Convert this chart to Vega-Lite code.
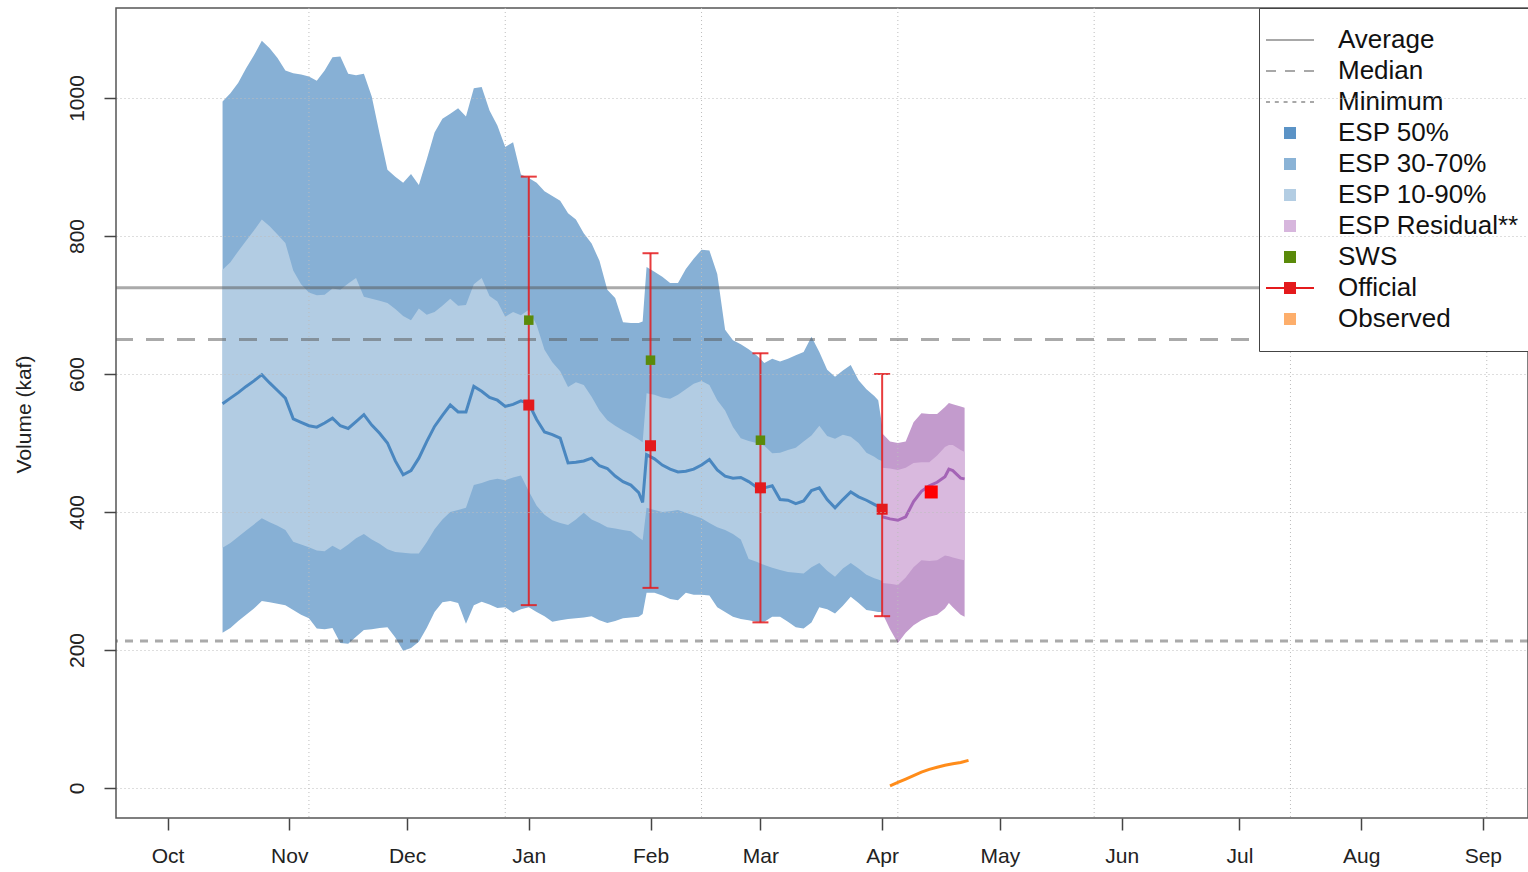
{
  "$schema": "https://vega.github.io/schema/vega-lite/v6.json",
  "width": 1412,
  "height": 810,
  "autosize": {"type": "none"},
  "padding": {"left": 116, "top": 8, "right": 0, "bottom": 54},
  "background": "white",
  "config": {
    "font": "Liberation Sans",
    "view": {"stroke": "#555555", "strokeWidth": 1.5}
  },
  "datasets": {
    "esp": [
      {"date":"2022-10-15","ob":225,"ib":348,"p50":557,"it":751,"ot":995},
      {"date":"2022-10-17","ob":232,"ib":355,"p50":565,"it":762,"ot":1007},
      {"date":"2022-10-19","ob":242,"ib":364,"p50":573,"it":778,"ot":1022},
      {"date":"2022-10-21","ob":251,"ib":373,"p50":582,"it":793,"ot":1043},
      {"date":"2022-10-23","ob":260,"ib":382,"p50":590,"it":808,"ot":1062},
      {"date":"2022-10-25","ob":271,"ib":391,"p50":599,"it":824,"ot":1083},
      {"date":"2022-10-27","ob":269,"ib":385,"p50":587,"it":814,"ot":1072},
      {"date":"2022-10-29","ob":267,"ib":380,"p50":576,"it":802,"ot":1058},
      {"date":"2022-10-31","ob":265,"ib":374,"p50":565,"it":790,"ot":1040},
      {"date":"2022-11-02","ob":258,"ib":357,"p50":535,"it":750,"ot":1036},
      {"date":"2022-11-04","ob":251,"ib":353,"p50":530,"it":730,"ot":1034},
      {"date":"2022-11-06","ob":246,"ib":349,"p50":525,"it":718,"ot":1031},
      {"date":"2022-11-08","ob":231,"ib":344,"p50":523,"it":714,"ot":1025},
      {"date":"2022-11-10","ob":230,"ib":343,"p50":529,"it":715,"ot":1040},
      {"date":"2022-11-12","ob":232,"ib":351,"p50":536,"it":724,"ot":1059},
      {"date":"2022-11-14","ob":210,"ib":345,"p50":525,"it":722,"ot":1060},
      {"date":"2022-11-16","ob":209,"ib":353,"p50":521,"it":731,"ot":1035},
      {"date":"2022-11-18","ob":219,"ib":362,"p50":531,"it":739,"ot":1033},
      {"date":"2022-11-20","ob":229,"ib":368,"p50":541,"it":712,"ot":1035},
      {"date":"2022-11-22","ob":230,"ib":360,"p50":526,"it":709,"ot":1002},
      {"date":"2022-11-24","ob":232,"ib":354,"p50":514,"it":706,"ot":948},
      {"date":"2022-11-26","ob":233,"ib":346,"p50":500,"it":703,"ot":896},
      {"date":"2022-11-28","ob":218,"ib":342,"p50":474,"it":694,"ot":886},
      {"date":"2022-11-30","ob":199,"ib":341,"p50":454,"it":684,"ot":877},
      {"date":"2022-12-02","ob":203,"ib":340,"p50":460,"it":678,"ot":890},
      {"date":"2022-12-04","ob":212,"ib":340,"p50":478,"it":695,"ot":874},
      {"date":"2022-12-06","ob":232,"ib":356,"p50":502,"it":686,"ot":911},
      {"date":"2022-12-08","ob":255,"ib":375,"p50":524,"it":690,"ot":950},
      {"date":"2022-12-10","ob":269,"ib":389,"p50":540,"it":699,"ot":970},
      {"date":"2022-12-12","ob":271,"ib":400,"p50":555,"it":709,"ot":977},
      {"date":"2022-12-14","ob":268,"ib":403,"p50":545,"it":699,"ot":985},
      {"date":"2022-12-16","ob":238,"ib":406,"p50":545,"it":700,"ot":973},
      {"date":"2022-12-18","ob":265,"ib":439,"p50":582,"it":730,"ot":1014},
      {"date":"2022-12-20","ob":270,"ib":442,"p50":575,"it":739,"ot":1016},
      {"date":"2022-12-22","ob":266,"ib":446,"p50":566,"it":713,"ot":982},
      {"date":"2022-12-24","ob":261,"ib":448,"p50":562,"it":705,"ot":960},
      {"date":"2022-12-26","ob":262,"ib":446,"p50":553,"it":683,"ot":929},
      {"date":"2022-12-28","ob":254,"ib":450,"p50":556,"it":690,"ot":936},
      {"date":"2022-12-30","ob":259,"ib":453,"p50":561,"it":685,"ot":889},
      {"date":"2023-01-01","ob":262,"ib":430,"p50":557,"it":693,"ot":884},
      {"date":"2023-01-03","ob":255,"ib":409,"p50":534,"it":671,"ot":877},
      {"date":"2023-01-05","ob":249,"ib":396,"p50":516,"it":635,"ot":865},
      {"date":"2023-01-07","ob":241,"ib":388,"p50":512,"it":617,"ot":858},
      {"date":"2023-01-09","ob":243,"ib":384,"p50":507,"it":604,"ot":851},
      {"date":"2023-01-11","ob":245,"ib":381,"p50":471,"it":581,"ot":833},
      {"date":"2023-01-13","ob":246,"ib":389,"p50":472,"it":588,"ot":824},
      {"date":"2023-01-15","ob":247,"ib":399,"p50":474,"it":584,"ot":804},
      {"date":"2023-01-17","ob":249,"ib":389,"p50":478,"it":567,"ot":789},
      {"date":"2023-01-19","ob":243,"ib":384,"p50":467,"it":547,"ot":764},
      {"date":"2023-01-21","ob":239,"ib":378,"p50":463,"it":533,"ot":722},
      {"date":"2023-01-23","ob":242,"ib":376,"p50":452,"it":525,"ot":710},
      {"date":"2023-01-25","ob":246,"ib":374,"p50":444,"it":518,"ot":675},
      {"date":"2023-01-27","ob":247,"ib":372,"p50":439,"it":512,"ot":674},
      {"date":"2023-01-29","ob":248,"ib":363,"p50":428,"it":505,"ot":674},
      {"date":"2023-01-30","ob":252,"ib":359,"p50":414,"it":501,"ot":676},
      {"date":"2023-01-31","ob":283,"ib":406,"p50":483,"it":572,"ot":755},
      {"date":"2023-02-02","ob":283,"ib":403,"p50":477,"it":570,"ot":748},
      {"date":"2023-02-04","ob":279,"ib":400,"p50":468,"it":566,"ot":741},
      {"date":"2023-02-06","ob":274,"ib":401,"p50":462,"it":564,"ot":732},
      {"date":"2023-02-08","ob":272,"ib":403,"p50":458,"it":570,"ot":732},
      {"date":"2023-02-10","ob":283,"ib":399,"p50":459,"it":578,"ot":752},
      {"date":"2023-02-12","ob":280,"ib":395,"p50":462,"it":586,"ot":767},
      {"date":"2023-02-14","ob":280,"ib":391,"p50":468,"it":590,"ot":780},
      {"date":"2023-02-16","ob":279,"ib":384,"p50":476,"it":584,"ot":779},
      {"date":"2023-02-18","ob":262,"ib":378,"p50":461,"it":562,"ot":745},
      {"date":"2023-02-20","ob":255,"ib":374,"p50":452,"it":547,"ot":664},
      {"date":"2023-02-22","ob":248,"ib":368,"p50":449,"it":523,"ot":649},
      {"date":"2023-02-24","ob":245,"ib":360,"p50":450,"it":507,"ot":643},
      {"date":"2023-02-26","ob":243,"ib":332,"p50":444,"it":503,"ot":636},
      {"date":"2023-02-28","ob":241,"ib":328,"p50":436,"it":500,"ot":627},
      {"date":"2023-03-02","ob":241,"ib":323,"p50":435,"it":496,"ot":616},
      {"date":"2023-03-04","ob":248,"ib":319,"p50":438,"it":485,"ot":622},
      {"date":"2023-03-06","ob":248,"ib":316,"p50":418,"it":486,"ot":618},
      {"date":"2023-03-08","ob":241,"ib":313,"p50":417,"it":490,"ot":622},
      {"date":"2023-03-10","ob":233,"ib":312,"p50":412,"it":493,"ot":627},
      {"date":"2023-03-12","ob":231,"ib":311,"p50":416,"it":502,"ot":632},
      {"date":"2023-03-14","ob":240,"ib":320,"p50":431,"it":511,"ot":654},
      {"date":"2023-03-16","ob":262,"ib":326,"p50":435,"it":525,"ot":632},
      {"date":"2023-03-18","ob":259,"ib":315,"p50":418,"it":510,"ot":606},
      {"date":"2023-03-20","ob":253,"ib":306,"p50":406,"it":506,"ot":596},
      {"date":"2023-03-22","ob":264,"ib":318,"p50":418,"it":512,"ot":605},
      {"date":"2023-03-24","ob":277,"ib":326,"p50":429,"it":509,"ot":613},
      {"date":"2023-03-26","ob":268,"ib":318,"p50":422,"it":500,"ot":591},
      {"date":"2023-03-28","ob":258,"ib":309,"p50":417,"it":486,"ot":578},
      {"date":"2023-03-30","ob":256,"ib":304,"p50":411,"it":480,"ot":568},
      {"date":"2023-03-31","ob":255,"ib":302,"p50":408,"it":476,"ot":562},
      {"date":"2023-04-01","ob":255,"ib":300,"p50":404,"it":474,"ot":525}
    ],
    "resid": [
      {"date":"2023-04-01","ob":254,"ib":297,"p50":393,"it":464,"ot":514},
      {"date":"2023-04-03","ob":230,"ib":296,"p50":390,"it":463,"ot":502},
      {"date":"2023-04-05","ob":210,"ib":294,"p50":388,"it":461,"ot":500},
      {"date":"2023-04-07","ob":225,"ib":305,"p50":393,"it":464,"ot":502},
      {"date":"2023-04-09","ob":236,"ib":320,"p50":415,"it":471,"ot":530},
      {"date":"2023-04-11","ob":243,"ib":330,"p50":430,"it":472,"ot":543},
      {"date":"2023-04-13","ob":248,"ib":329,"p50":438,"it":472,"ot":542},
      {"date":"2023-04-15","ob":251,"ib":330,"p50":443,"it":482,"ot":542},
      {"date":"2023-04-17","ob":260,"ib":337,"p50":451,"it":494,"ot":552},
      {"date":"2023-04-18","ob":268,"ib":336,"p50":462,"it":497,"ot":558},
      {"date":"2023-04-19","ob":262,"ib":334,"p50":460,"it":497,"ot":556},
      {"date":"2023-04-21","ob":251,"ib":331,"p50":449,"it":490,"ot":553},
      {"date":"2023-04-22","ob":248,"ib":330,"p50":448,"it":487,"ot":551}
    ],
    "observed": [
      {"date":"2023-04-03","value":3},
      {"date":"2023-04-05","value":8},
      {"date":"2023-04-07","value":13},
      {"date":"2023-04-09","value":18},
      {"date":"2023-04-11","value":23},
      {"date":"2023-04-13","value":27},
      {"date":"2023-04-15","value":30},
      {"date":"2023-04-17","value":33},
      {"date":"2023-04-19","value":35},
      {"date":"2023-04-21","value":37},
      {"date":"2023-04-23","value":40}
    ],
    "official": [
      {"date":"2023-01-01","low":265,"high":886,"official":555,"sws":678},
      {"date":"2023-02-01","low":290,"high":775,"official":496,"sws":620},
      {"date":"2023-03-01","low":240,"high":630,"official":435,"sws":504},
      {"date":"2023-04-01","low":249,"high":600,"official":404,"sws":null}
    ],
    "current": [
      {"date":"2023-04-13T12:00:00Z","value":429}
    ],
    "vgrid": [
      {"date":"2022-11-06"},{"date":"2022-12-26"},{"date":"2023-02-14"},{"date":"2023-04-05"},
      {"date":"2023-05-25"},{"date":"2023-07-14"},{"date":"2023-09-02"}
    ],
    "refs": [
      {"series":"Average","value":725},
      {"series":"Median","value":650},
      {"series":"Minimum","value":213}
    ],
    "legend": [
      {"series":"Average"},{"series":"Median"},{"series":"Minimum"},{"series":"ESP 50%"},{"series":"ESP 30-70%"},
      {"series":"ESP 10-90%"},{"series":"ESP Residual**"},{"series":"SWS"},{"series":"Official"},{"series":"Observed"}
    ]
  },
  "layer": [
    {
      "data": {"name": "esp"},
      "mark": {"type": "area", "color": "#87b0d5", "opacity": 1},
      "encoding": {
        "x": {
          "field": "date", "type": "temporal",
          "scale": {"type": "utc", "nice": false, "domain": [{"year":2022,"month":9,"date":17,"hours":20,"minutes":40,"utc":true},{"year":2023,"month":9,"date":12,"hours":12,"utc":true}]},
          "axis": {
            "title": null, "format": "%b", "grid": false, "domain": false,
            "values": [
              {"year":2022,"month":10,"date":1,"utc":true},{"year":2022,"month":11,"date":1,"utc":true},{"year":2022,"month":12,"date":1,"utc":true},
              {"year":2023,"month":1,"date":1,"utc":true},{"year":2023,"month":2,"date":1,"utc":true},{"year":2023,"month":3,"date":1,"utc":true},
              {"year":2023,"month":4,"date":1,"utc":true},{"year":2023,"month":5,"date":1,"utc":true},{"year":2023,"month":6,"date":1,"utc":true},
              {"year":2023,"month":7,"date":1,"utc":true},{"year":2023,"month":8,"date":1,"utc":true},{"year":2023,"month":9,"date":1,"utc":true}
            ],
            "tickSize": 12, "tickColor": "#444444", "tickWidth": 1.5,
            "labelFontSize": 21, "labelColor": "#222222", "labelPadding": 15,
            "labelFlush": false, "labelOverlap": false
          }
        },
        "y": {
          "field": "ob", "type": "quantitative", "title": "Volume (kaf)",
          "scale": {"domain": [-43.5, 1130.4], "nice": false, "zero": false},
          "axis": {
            "title": "Volume (kaf)", "titleFontSize": 21, "titleFontWeight": "normal", "titleColor": "#222222",
            "titleX": -92, "titleY": 406, "titleAngle": -90, "titleBaseline": "middle", "titleAlign": "center",
            "values": [0, 200, 400, 600, 800, 1000], "format": "d",
            "labelAngle": -90, "labelFontSize": 21, "labelColor": "#222222", "labelPadding": 17,
            "tickSize": 12, "tickColor": "#444444", "tickWidth": 1.5, "domain": false,
            "grid": true, "gridDash": [1, 3], "gridColor": "#bdbdbd", "gridWidth": 1, "zindex": 1
          }
        },
        "y2": {"field": "ot"}
      }
    },
    {
      "data": {"name": "esp"},
      "mark": {"type": "area", "color": "#b2cce3", "opacity": 1},
      "encoding": {
        "x": {"field": "date", "type": "temporal", "scale": {"type": "utc", "nice": false, "domain": [{"year":2022,"month":9,"date":17,"hours":20,"minutes":40,"utc":true},{"year":2023,"month":9,"date":12,"hours":12,"utc":true}]}},
        "y": {"field": "ib", "type": "quantitative", "title": "Volume (kaf)", "scale": {"domain": [-43.5, 1130.4], "nice": false, "zero": false}},
        "y2": {"field": "it"}
      }
    },
    {
      "data": {"name": "resid"},
      "mark": {"type": "area", "color": "#c39bcd", "opacity": 1},
      "encoding": {
        "x": {"field": "date", "type": "temporal", "scale": {"type": "utc", "nice": false, "domain": [{"year":2022,"month":9,"date":17,"hours":20,"minutes":40,"utc":true},{"year":2023,"month":9,"date":12,"hours":12,"utc":true}]}},
        "y": {"field": "ob", "type": "quantitative", "title": "Volume (kaf)", "scale": {"domain": [-43.5, 1130.4], "nice": false, "zero": false}},
        "y2": {"field": "ot"}
      }
    },
    {
      "data": {"name": "resid"},
      "mark": {"type": "area", "color": "#d9b9de", "opacity": 1},
      "encoding": {
        "x": {"field": "date", "type": "temporal", "scale": {"type": "utc", "nice": false, "domain": [{"year":2022,"month":9,"date":17,"hours":20,"minutes":40,"utc":true},{"year":2023,"month":9,"date":12,"hours":12,"utc":true}]}},
        "y": {"field": "ib", "type": "quantitative", "title": "Volume (kaf)", "scale": {"domain": [-43.5, 1130.4], "nice": false, "zero": false}},
        "y2": {"field": "it"}
      }
    },
    {
      "data": {"name": "vgrid"},
      "mark": {"type": "rule", "color": "#bdbdbd", "strokeDash": [1, 3], "strokeWidth": 1},
      "encoding": {
        "x": {"field": "date", "type": "temporal", "scale": {"type": "utc", "nice": false, "domain": [{"year":2022,"month":9,"date":17,"hours":20,"minutes":40,"utc":true},{"year":2023,"month":9,"date":12,"hours":12,"utc":true}]}}
      }
    },
    {
      "data": {"name": "refs"},
      "mark": {"type": "rule", "strokeWidth": 3, "color": "#555555", "opacity": 0.5},
      "encoding": {
        "y": {"field": "value", "type": "quantitative", "title": "Volume (kaf)", "scale": {"domain": [-43.5, 1130.4], "nice": false, "zero": false}},
        "strokeDash": {
          "field": "series", "type": "nominal",
          "scale": {"domain": ["Average", "Median", "Minimum"], "range": [[1, 0], [18, 13], [8, 7]]},
          "legend": null
        }
      }
    },
    {
      "data": {"name": "esp"},
      "mark": {"type": "line", "color": "#4a87c0", "strokeWidth": 3},
      "encoding": {
        "x": {"field": "date", "type": "temporal", "scale": {"type": "utc", "nice": false, "domain": [{"year":2022,"month":9,"date":17,"hours":20,"minutes":40,"utc":true},{"year":2023,"month":9,"date":12,"hours":12,"utc":true}]}},
        "y": {"field": "p50", "type": "quantitative", "title": "Volume (kaf)", "scale": {"domain": [-43.5, 1130.4], "nice": false, "zero": false}}
      }
    },
    {
      "data": {"name": "resid"},
      "mark": {"type": "line", "color": "#a464b6", "strokeWidth": 3},
      "encoding": {
        "x": {"field": "date", "type": "temporal", "scale": {"type": "utc", "nice": false, "domain": [{"year":2022,"month":9,"date":17,"hours":20,"minutes":40,"utc":true},{"year":2023,"month":9,"date":12,"hours":12,"utc":true}]}},
        "y": {"field": "p50", "type": "quantitative", "title": "Volume (kaf)", "scale": {"domain": [-43.5, 1130.4], "nice": false, "zero": false}}
      }
    },
    {
      "data": {"name": "observed"},
      "mark": {"type": "line", "color": "#ff8c1a", "strokeWidth": 3},
      "encoding": {
        "x": {"field": "date", "type": "temporal", "scale": {"type": "utc", "nice": false, "domain": [{"year":2022,"month":9,"date":17,"hours":20,"minutes":40,"utc":true},{"year":2023,"month":9,"date":12,"hours":12,"utc":true}]}},
        "y": {"field": "value", "type": "quantitative", "title": "Volume (kaf)", "scale": {"domain": [-43.5, 1130.4], "nice": false, "zero": false}}
      }
    },
    {
      "data": {"name": "official"},
      "mark": {"type": "errorbar", "ticks": true, "size": 16, "thickness": 2, "color": "#e41a1c", "opacity": 0.85},
      "encoding": {
        "x": {"field": "date", "type": "temporal", "scale": {"type": "utc", "nice": false, "domain": [{"year":2022,"month":9,"date":17,"hours":20,"minutes":40,"utc":true},{"year":2023,"month":9,"date":12,"hours":12,"utc":true}]}},
        "y": {"field": "low", "type": "quantitative", "title": "Volume (kaf)", "scale": {"domain": [-43.5, 1130.4], "nice": false, "zero": false}},
        "y2": {"field": "high"}
      }
    },
    {
      "data": {"name": "official"},
      "mark": {"type": "point", "shape": "square", "filled": true, "size": 90, "color": "#5a8a0a", "opacity": 1},
      "encoding": {
        "x": {"field": "date", "type": "temporal", "scale": {"type": "utc", "nice": false, "domain": [{"year":2022,"month":9,"date":17,"hours":20,"minutes":40,"utc":true},{"year":2023,"month":9,"date":12,"hours":12,"utc":true}]}},
        "y": {"field": "sws", "type": "quantitative", "title": "Volume (kaf)", "scale": {"domain": [-43.5, 1130.4], "nice": false, "zero": false}}
      }
    },
    {
      "data": {"name": "official"},
      "mark": {"type": "point", "shape": "square", "filled": true, "size": 121, "color": "#e41a1c", "opacity": 1},
      "encoding": {
        "x": {"field": "date", "type": "temporal", "scale": {"type": "utc", "nice": false, "domain": [{"year":2022,"month":9,"date":17,"hours":20,"minutes":40,"utc":true},{"year":2023,"month":9,"date":12,"hours":12,"utc":true}]}},
        "y": {"field": "official", "type": "quantitative", "title": "Volume (kaf)", "scale": {"domain": [-43.5, 1130.4], "nice": false, "zero": false}}
      }
    },
    {
      "data": {"name": "current"},
      "mark": {"type": "point", "shape": "square", "filled": true, "size": 169, "color": "#ff0000", "opacity": 1},
      "encoding": {
        "x": {"field": "date", "type": "temporal", "scale": {"type": "utc", "nice": false, "domain": [{"year":2022,"month":9,"date":17,"hours":20,"minutes":40,"utc":true},{"year":2023,"month":9,"date":12,"hours":12,"utc":true}]}},
        "y": {"field": "value", "type": "quantitative", "title": "Volume (kaf)", "scale": {"domain": [-43.5, 1130.4], "nice": false, "zero": false}}
      }
    },
    {
      "data": {"name": "legend"},
      "mark": {"type": "point", "filled": true, "opacity": 0, "size": 1},
      "encoding": {
        "color": {
          "field": "series", "type": "nominal",
          "scale": {
            "domain": ["Average", "Median", "Minimum", "ESP 50%", "ESP 30-70%", "ESP 10-90%", "ESP Residual**", "SWS", "Official", "Observed"],
            "range": ["#a8a8a8", "#a8a8a8", "#a8a8a8", "#5b93c6", "#8ab3d6", "#b3cde3", "#d7b6dd", "#5a8a0a", "#e41a1c", "#fdae6b"]
          },
          "legend": {
            "orient": "none", "legendX": 1143, "legendY": 0,
            "direction": "vertical", "columns": 1, "title": null,
            "padding": 19, "strokeColor": "#444444", "fillColor": "#ffffff",
            "labelFont": "Liberation Sans", "labelFontSize": 26, "labelColor": "#111111",
            "labelLimit": 600, "labelOffset": 35,
            "symbolSize": 144, "symbolOffset": -1, "rowPadding": 5,
            "symbolStrokeWidth": 0, "symbolStrokeColor": "transparent", "symbolOpacity": 1
          }
        },
        "shape": {
          "field": "series", "type": "nominal",
          "scale": {
            "domain": ["Average", "Median", "Minimum", "ESP 50%", "ESP 30-70%", "ESP 10-90%", "ESP Residual**", "SWS", "Official", "Observed"],
            "range": [
              "M-4,-0.17H4V0.17H-4Z",
              "M-4,-0.17H-2.333V0.17H-4ZM-0.833,-0.17H0.833V0.17H-0.833ZM2.333,-0.17H4V0.17H2.333Z",
              "M-4,-0.17H-3.333V0.17H-4ZM-2.533,-0.17H-1.867V0.17H-2.533ZM-1.067,-0.17H-0.4V0.17H-1.067ZM0.4,-0.17H1.067V0.17H0.4ZM1.867,-0.17H2.533V0.17H1.867ZM3.333,-0.17H4V0.17H3.333Z",
              "square", "square", "square", "square", "square",
              "M-4,-0.17H4V0.17H-4ZM-1,-1H1V1H-1Z",
              "square"
            ]
          },
          "legend": {
            "orient": "none", "legendX": 1143, "legendY": 0,
            "direction": "vertical", "columns": 1, "title": null,
            "padding": 19, "strokeColor": "#444444", "fillColor": "#ffffff",
            "labelFont": "Liberation Sans", "labelFontSize": 26, "labelColor": "#111111",
            "labelLimit": 600, "labelOffset": 35,
            "symbolSize": 144, "symbolOffset": -1, "rowPadding": 5,
            "symbolStrokeWidth": 0, "symbolStrokeColor": "transparent", "symbolOpacity": 1
          }
        }
      }
    }
  ]
}
